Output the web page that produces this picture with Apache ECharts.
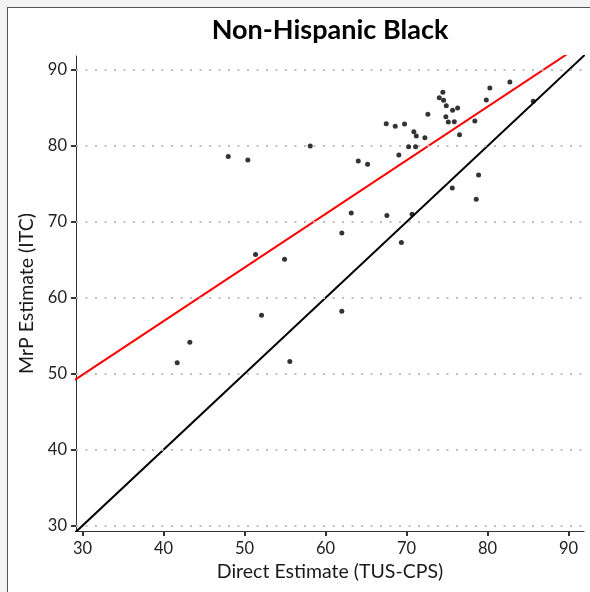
<!DOCTYPE html>
<html><head><meta charset="utf-8">
<script src="https://cdn.jsdelivr.net/npm/echarts@6/dist/echarts.min.js"></script>
<style>
html,body{margin:0;padding:0;background:#f3f3f3;overflow:hidden;}
#frame{position:absolute;left:7px;top:7px;width:600px;height:600px;background:#fff;border-left:1.5px solid #555;border-top:1.5px solid #555;}
#chart{position:absolute;left:0;top:0;width:590px;height:592px;}
</style></head><body>
<div id="frame"></div>
<div id="chart"></div>
<script>
const directEstimate = [41.69,43.25,47.99,50.41,51.36,52.10,54.94,55.59,58.11,62.01,62.01,63.17,64.04,65.19,67.49,67.57,68.60,69.05,69.36,69.75,70.25,70.68,70.90,71.11,71.20,72.26,72.63,74.04,74.48,74.57,74.85,74.90,75.15,75.64,75.68,75.89,76.30,76.54,78.43,78.60,78.89,79.84,80.28,82.75,85.64];
const mrpEstimate    = [51.45,54.17,78.62,78.16,65.70,57.72,65.07,51.62,80.00,68.55,58.25,71.18,78.03,77.59,82.93,70.83,82.59,78.82,67.28,82.89,79.91,71.01,81.88,79.91,81.32,81.09,84.17,86.36,87.07,86.01,83.86,85.30,83.16,74.47,84.70,83.20,85.00,81.49,83.29,72.99,76.18,86.05,87.63,88.42,85.88];
const xTicks = [30,40,50,60,70,80,90];
const yTicks = [30,40,50,60,70,80,90];
const fitLine = [[28.0,48.45],[92.5,94.0]];
const identityLine = [[28.0,28.0],[93.0,93.0]];

const FONT = 'Lato';
const chart = echarts.init(document.getElementById('chart'), null, {renderer:'canvas'});
const axisCommon = {
  type:'value',
  axisLine:{show:true,onZero:false,lineStyle:{color:'#333',width:1}},
  splitLine:{show:false},
  nameLocation:'middle',
  nameTextStyle:{fontFamily:FONT,fontSize:19.5,color:'#1a1a1a'}
};
chart.setOption({
  backgroundColor:'transparent',
  animation:false,
  title:{text:'Non-Hispanic Black',left:325,top:12,textAlign:'center',
    textStyle:{fontFamily:FONT,fontWeight:'bold',fontSize:27,color:'#000'}},
  grid:{left:76,top:56,width:508,height:475,containLabel:false},
  xAxis:Object.assign({},axisCommon,{
    min:29.2,max:91.9,
    name:'Direct Estimate (TUS-CPS)',nameGap:30,
    axisTick:{show:true,customValues:xTicks,length:5,lineStyle:{color:'#333',width:2}},
    axisLabel:{customValues:xTicks,fontFamily:FONT,fontSize:16.5,color:'#222',margin:9}
  }),
  yAxis:Object.assign({},axisCommon,{
    min:29.3,max:91.85,
    name:'MrP Estimate (ITC)',nameGap:36,
    axisTick:{show:true,customValues:yTicks,length:5,lineStyle:{color:'#333',width:2}},
    axisLabel:{customValues:yTicks,fontFamily:FONT,fontSize:16.5,color:'#222',margin:9}
  }),
  series:[
    {type:'line',data:[],silent:true,
      markLine:{symbol:'none',silent:true,label:{show:false},animation:false,
        lineStyle:{type:[2,7.5],color:'#bdbdbd',width:2},
        data:yTicks.map(v=>({yAxis:v}))}},
    {type:'line',data:identityLine,symbol:'none',clip:true,lineStyle:{color:'#000',width:2},z:3},
    {type:'line',data:fitLine,symbol:'none',clip:true,lineStyle:{color:'#ff0000',width:2},z:4},
    {type:'scatter',data:directEstimate.map((x,i)=>[x,mrpEstimate[i]]),symbol:'circle',symbolSize:5,
      itemStyle:{color:'#000'},z:5}
  ]
});
</script></body></html>
